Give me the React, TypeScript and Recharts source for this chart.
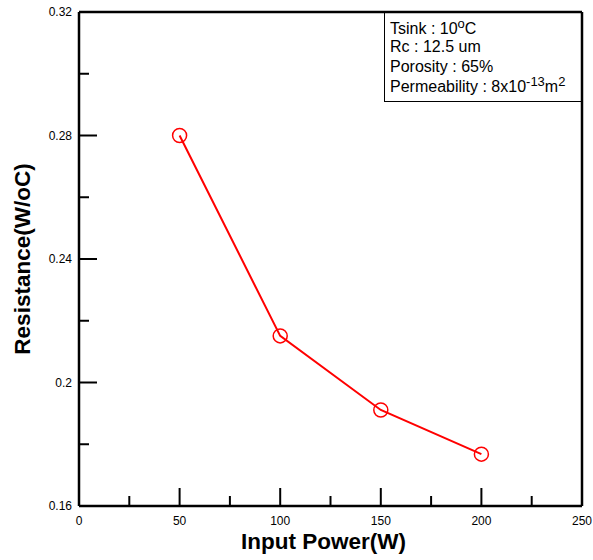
import React from "react"
import { LineChart, Line, XAxis, YAxis, ReferenceLine, Label } from "recharts"

const powers = [50, 100, 150, 200]
const resistance = [0.28, 0.2151, 0.1911, 0.1768]

const xTicks = [0, 25, 50, 75, 100, 125, 150, 175, 200, 225, 250]
const xLabels = [0, 50, 100, 150, 200, 250]
const yTicks = [0.16, 0.18, 0.2, 0.22, 0.24, 0.26, 0.28, 0.3, 0.32]
const yLabels = [0.16, 0.2, 0.24, 0.28, 0.32]

const data = powers.map((p, i) => ({ p, r: resistance[i] }))

const font = "'Liberation Sans', Arial, sans-serif"
const isMajor = (list: number[], v: number) => list.some((m) => Math.abs(m - v) < 1e-9)

function XTick(props: any) {
  const { x, y, payload } = props
  const major = isMajor(xLabels, payload.value)
  return (
    <g>
      <line x1={x} x2={x} y1={y} y2={y - (major ? 18 : 10)} stroke="#000" strokeWidth={2} />
      {major && (
        <text x={x} y={y + 19} textAnchor="middle" fontSize={12} fontFamily={font} fill="#000">
          {payload.value}
        </text>
      )}
    </g>
  )
}

function YTick(props: any) {
  const { x, y, payload } = props
  const major = isMajor(yLabels, payload.value)
  return (
    <g>
      <line x1={x} x2={x + (major ? 18 : 10)} y1={y} y2={y} stroke="#000" strokeWidth={2} />
      {major && (
        <text x={x - 7} y={y} dy="0.35em" textAnchor="end" fontSize={12} fontFamily={font} fill="#000">
          {payload.value}
        </text>
      )}
    </g>
  )
}

const sup = { fontSize: 13, verticalAlign: "6px", lineHeight: 0 }

export default function App() {
  return (
    <div style={{ position: "absolute", left: 0, top: 0, width: 593, height: 560, fontFamily: font }}>
      <LineChart
        width={593}
        height={560}
        data={data}
        margin={{ top: 12, right: 11, left: 0, bottom: 0 }}
        style={{ overflow: "visible" }}
      >
        <XAxis
          dataKey="p"
          type="number"
          domain={[0, 250]}
          ticks={xTicks}
          interval={0}
          tickSize={0}
          tickMargin={0}
          tick={<XTick />}
          axisLine={{ stroke: "#000", strokeWidth: 2.5 }}
          height={54}
        >
          <Label
            content={({ viewBox }: any) => (
              <text
                x={viewBox.x + viewBox.width / 2 - 7}
                y={viewBox.y + 43}
                textAnchor="middle"
                fontSize={22.5}
                fontWeight="bold"
                fontFamily={font}
                fill="#000"
              >
                Input Power(W)
              </text>
            )}
          />
        </XAxis>
        <YAxis
          type="number"
          domain={[0.16, 0.32]}
          ticks={yTicks}
          interval={0}
          tickSize={0}
          tickMargin={0}
          tick={<YTick />}
          axisLine={{ stroke: "#000", strokeWidth: 2.5 }}
          width={79}
        >
          <Label
            content={({ viewBox }: any) => {
              const cx = viewBox.x + 22
              const cy = viewBox.y + viewBox.height / 2
              return (
                <text
                  x={cx}
                  y={cy}
                  dy="0.35em"
                  transform={`rotate(-90 ${cx} ${cy})`}
                  textAnchor="middle"
                  fontSize={22.5}
                  fontWeight="bold"
                  fontFamily={font}
                  fill="#000"
                >
                  Resistance(W/oC)
                </text>
              )
            }}
          />
        </YAxis>
        <ReferenceLine y={0.32} stroke="#000" strokeWidth={2.5} />
        <ReferenceLine x={250} stroke="#000" strokeWidth={2.5} />
        <Line
          dataKey="r"
          stroke="#ff0000"
          strokeWidth={2}
          dot={{ r: 7, stroke: "#ff0000", strokeWidth: 1.5, fill: "none" }}
          activeDot={false}
          isAnimationActive={false}
        />
      </LineChart>
      <div
        style={{
          position: "absolute",
          left: 384,
          top: 12,
          width: 198,
          height: 90,
          borderLeft: "1px solid #000",
          borderBottom: "1px solid #000",
          boxSizing: "border-box",
          fontSize: 16,
          color: "#000",
          paddingLeft: 5,
          paddingTop: 8,
          lineHeight: "18px",
          whiteSpace: "nowrap",
        }}
      >
        <div>
          Tsink : 10<sup style={sup}>o</sup>C
        </div>
        <div>Rc : 12.5 um</div>
        <div style={{ marginTop: 2 }}>Porosity : 65%</div>
        <div style={{ marginTop: 2 }}>
          Permeability : 8x10<sup style={sup}>-13</sup>m<sup style={sup}>2</sup>
        </div>
      </div>
    </div>
  )
}
